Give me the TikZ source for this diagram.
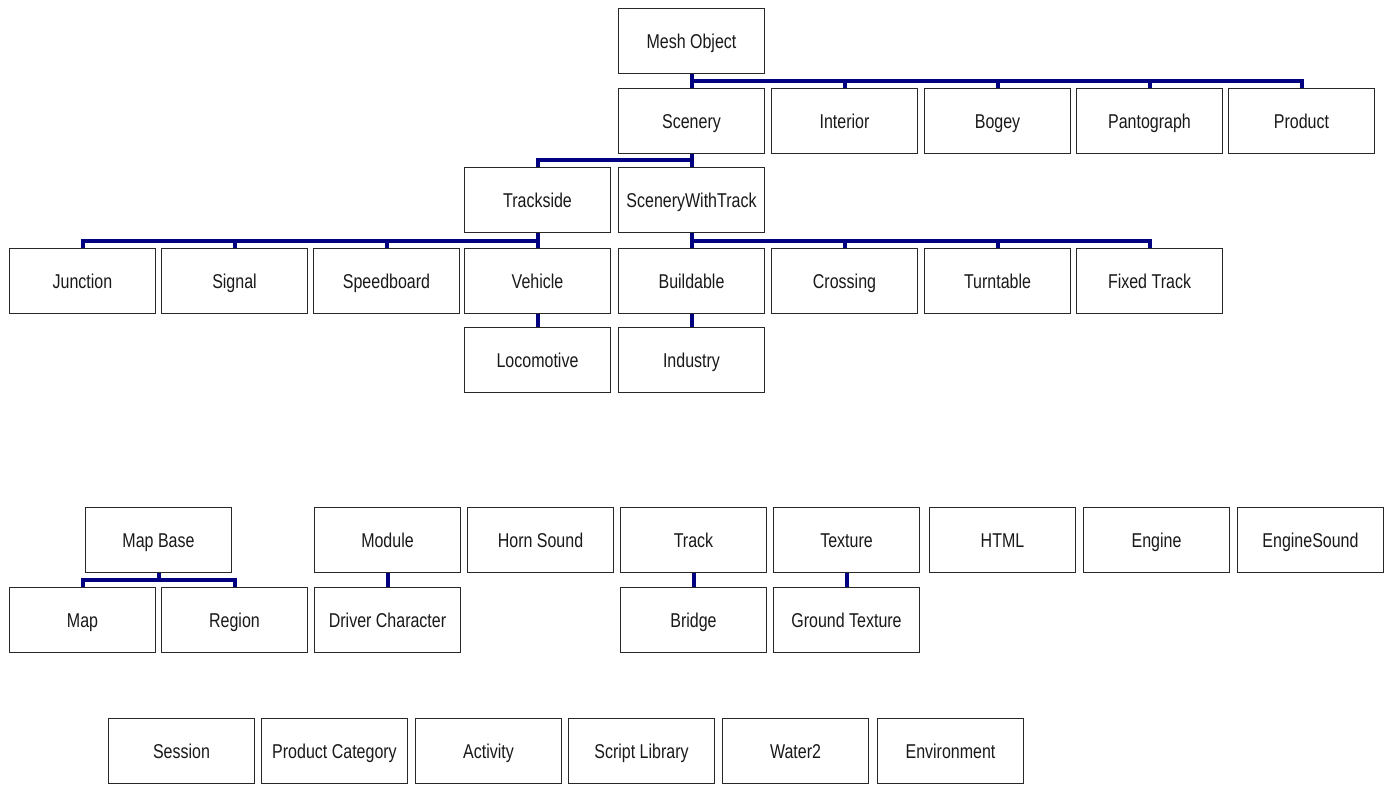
\documentclass[tikz,border=0pt]{standalone}
\usepackage{fontspec}
\newfontfamily\boxfont[FakeStretch=0.8]{Liberation Sans}
\definecolor{navy}{RGB}{0,0,128}
\definecolor{edgegray}{RGB}{40,40,40}
\begin{document}
\begin{tikzpicture}[x=1pt,y=-1pt,
  cls/.style={draw=edgegray,line width=1.4pt,fill=white,minimum width=146pt,minimum height=65pt,inner sep=0pt,text height=16pt,text depth=1.6pt,font=\boxfont\fontsize{20}{24}\selectfont,text=black!90},
  conn/.style={draw=navy,line width=4pt}]
\useasboundingbox (0,0) rectangle (1392,785);
% row 1-2
\node[cls] (mesh) at (691.5,41) {Mesh Object};
\node[cls] (scen) at (691.5,121) {Scenery};
\node[cls] (inte) at (844.5,121) {Interior};
\node[cls] (bogy) at (997.5,121) {Bogey};
\node[cls] (pant) at (1149.5,121) {Pantograph};
\node[cls] (prod) at (1301.5,121) {Product};
% row 3
\node[cls] (trks) at (537.5,200) {Trackside};
\node[cls] (swt) at (691.5,200) {SceneryWithTrack};
% row 4
\node[cls] (junc) at (82.5,281) {Junction};
\node[cls] (sign) at (234.5,281) {Signal};
\node[cls] (sped) at (386.5,281) {Speedboard};
\node[cls] (vehi) at (537.5,281) {Vehicle};
\node[cls] (buil) at (691.5,281) {Buildable};
\node[cls] (cros) at (844.5,281) {Crossing};
\node[cls] (turn) at (997.5,281) {Turntable};
\node[cls] (fixt) at (1149.5,281) {Fixed Track};
% row 5
\node[cls] (loco) at (537.5,360) {Locomotive};
\node[cls] (indu) at (691.5,360) {Industry};
% row 6
\node[cls] (mapb) at (158.5,540) {Map Base};
\node[cls] (modu) at (387.5,540) {Module};
\node[cls] (horn) at (540.5,540) {Horn Sound};
\node[cls] (trak) at (693.5,540) {Track};
\node[cls] (text) at (846.5,540) {Texture};
\node[cls] (html) at (1002.5,540) {HTML};
\node[cls] (engi) at (1156.5,540) {Engine};
\node[cls] (engs) at (1310.5,540) {EngineSound};
% row 7
\node[cls] (map) at (82.5,620) {Map};
\node[cls] (regi) at (234.5,620) {Region};
\node[cls] (driv) at (387.5,620) {Driver Character};
\node[cls] (brid) at (693.5,620) {Bridge};
\node[cls] (grnd) at (846.5,620) {Ground Texture};
% row 8
\node[cls] (sess) at (181.5,751) {Session};
\node[cls] (pcat) at (334.5,751) {Product Category};
\node[cls] (acti) at (488.5,751) {Activity};
\node[cls] (scri) at (641.5,751) {Script Library};
\node[cls] (watr) at (795.5,751) {Water2};
\node[cls] (envi) at (950.5,751) {Environment};
% connectors
\foreach \c in {scen,inte,bogy,pant,prod}
  \draw[conn] (mesh.south) -- ++(0,6.5) -| (\c.north);
\foreach \c in {trks,swt}
  \draw[conn] (scen.south) -- ++(0,5.5) -| (\c.north);
\foreach \c in {junc,sign,sped,vehi}
  \draw[conn] (trks.south) -- ++(0,7.5) -| (\c.north);
\foreach \c in {buil,cros,turn,fixt}
  \draw[conn] (swt.south) -- ++(0,7.5) -| (\c.north);
\draw[conn] (vehi.south) -- (loco.north);
\draw[conn] (buil.south) -- (indu.north);
\foreach \c in {map,regi}
  \draw[conn] (mapb.south) -- ++(0,7) -| (\c.north);
\draw[conn] (modu.south) -- (driv.north);
\draw[conn] (trak.south) -- (brid.north);
\draw[conn] (text.south) -- (grnd.north);
\end{tikzpicture}
\end{document}
